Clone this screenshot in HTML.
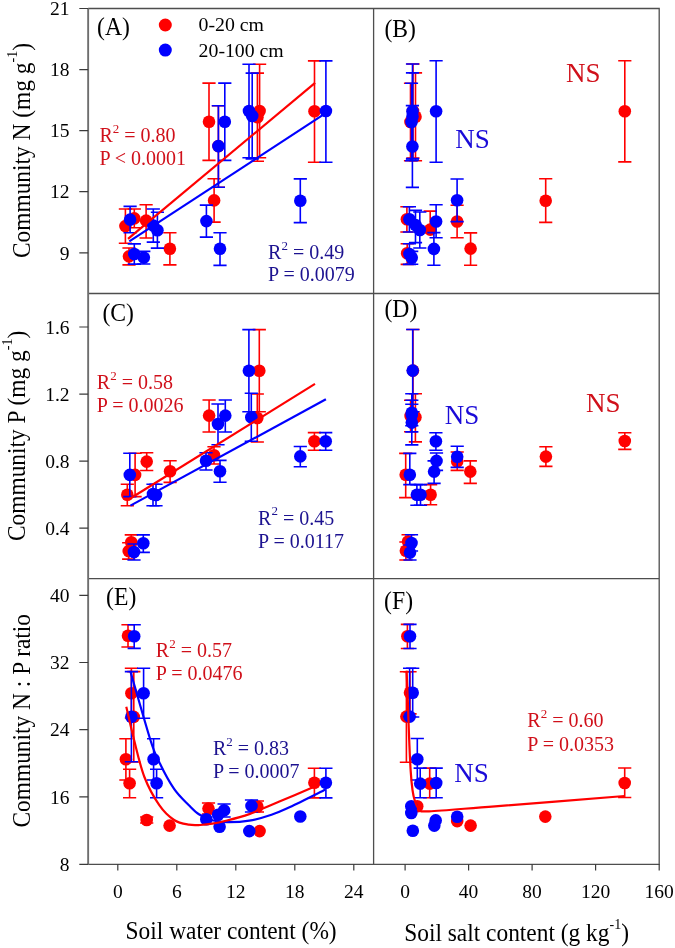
<!DOCTYPE html>
<html><head><meta charset="utf-8"><style>
html,body{margin:0;padding:0;background:#fff;width:675px;height:948px;overflow:hidden}
svg{display:block;will-change:transform}
text{font-family:"Liberation Serif",serif}
</style></head><body>
<svg width="675" height="948" viewBox="0 0 675 948" font-family="'Liberation Serif', serif">
<rect width="675" height="948" fill="#fff"/>
<path d="M218.4 105.7V187.3M211.8 105.7H225M211.8 187.3H225" stroke="#ff0000" stroke-width="1.6" fill="none"/><path d="M125.4 209V243.2M118.8 209H132M118.8 243.2H132" stroke="#ff0000" stroke-width="1.6" fill="none"/><path d="M134.3 209V227.8M127.7 209H140.9M127.7 227.8H140.9" stroke="#ff0000" stroke-width="1.6" fill="none"/><path d="M146.1 204.8V238M139.5 204.8H152.7M139.5 238H152.7" stroke="#ff0000" stroke-width="1.6" fill="none"/><path d="M169.9 232.7V264.9M163.3 232.7H176.5M163.3 264.9H176.5" stroke="#ff0000" stroke-width="1.6" fill="none"/><path d="M129 248V264.9M122.4 248H135.6M122.4 264.9H135.6" stroke="#ff0000" stroke-width="1.6" fill="none"/><path d="M209 83.1V160.4M202.4 83.1H215.6M202.4 160.4H215.6" stroke="#ff0000" stroke-width="1.6" fill="none"/><path d="M214.1 178.7V222.1M207.5 178.7H220.7M207.5 222.1H220.7" stroke="#ff0000" stroke-width="1.6" fill="none"/><path d="M259.6 64.2V157.8M253 64.2H266.2M253 157.8H266.2" stroke="#ff0000" stroke-width="1.6" fill="none"/><path d="M257.4 73.1V161.3M250.8 73.1H264M250.8 161.3H264" stroke="#ff0000" stroke-width="1.6" fill="none"/><path d="M314.5 60.9V162.3M307.9 60.9H321.1M307.9 162.3H321.1" stroke="#ff0000" stroke-width="1.6" fill="none"/><circle cx="218.4" cy="146.1" r="6.3" fill="#ff0000"/><circle cx="125.4" cy="226.1" r="6.3" fill="#ff0000"/><circle cx="134.3" cy="218.4" r="6.3" fill="#ff0000"/><circle cx="146.1" cy="220.6" r="6.3" fill="#ff0000"/><circle cx="169.9" cy="248.7" r="6.3" fill="#ff0000"/><circle cx="129" cy="256.4" r="6.3" fill="#ff0000"/><circle cx="209" cy="121.7" r="6.3" fill="#ff0000"/><circle cx="214.1" cy="200.4" r="6.3" fill="#ff0000"/><circle cx="259.6" cy="111" r="6.3" fill="#ff0000"/><circle cx="257.4" cy="117.2" r="6.3" fill="#ff0000"/><circle cx="314.5" cy="111.3" r="6.3" fill="#ff0000"/><path d="M130.1 206.4V232.8M123.5 206.4H136.7M123.5 232.8H136.7" stroke="#0000ff" stroke-width="1.6" fill="none"/><path d="M153.3 209V242.1M146.7 209H159.9M146.7 242.1H159.9" stroke="#0000ff" stroke-width="1.6" fill="none"/><path d="M157.4 212.3V248.1M150.8 212.3H164M150.8 248.1H164" stroke="#0000ff" stroke-width="1.6" fill="none"/><path d="M134.3 243.9V264.1M127.7 243.9H140.9M127.7 264.1H140.9" stroke="#0000ff" stroke-width="1.6" fill="none"/><path d="M143.8 251.4V264M137.2 251.4H150.4M137.2 264H150.4" stroke="#0000ff" stroke-width="1.6" fill="none"/><path d="M224.8 83.1V160.4M218.2 83.1H231.4M218.2 160.4H231.4" stroke="#0000ff" stroke-width="1.6" fill="none"/><path d="M218.4 105.7V187.3M211.8 105.7H225M211.8 187.3H225" stroke="#0000ff" stroke-width="1.6" fill="none"/><path d="M206.4 205.1V237.1M199.8 205.1H213M199.8 237.1H213" stroke="#0000ff" stroke-width="1.6" fill="none"/><path d="M249 64.2V157.8M242.4 64.2H255.6M242.4 157.8H255.6" stroke="#0000ff" stroke-width="1.6" fill="none"/><path d="M252.2 73.1V158.9M245.6 73.1H258.8M245.6 158.9H258.8" stroke="#0000ff" stroke-width="1.6" fill="none"/><path d="M325.9 60.9V162.3M319.3 60.9H332.5M319.3 162.3H332.5" stroke="#0000ff" stroke-width="1.6" fill="none"/><path d="M300.3 178.9V222.6M293.7 178.9H306.9M293.7 222.6H306.9" stroke="#0000ff" stroke-width="1.6" fill="none"/><path d="M220 232.8V265.4M213.4 232.8H226.6M213.4 265.4H226.6" stroke="#0000ff" stroke-width="1.6" fill="none"/><circle cx="130.1" cy="219.6" r="6.3" fill="#0000ff"/><circle cx="153.3" cy="225.6" r="6.3" fill="#0000ff"/><circle cx="157.4" cy="230.3" r="6.3" fill="#0000ff"/><circle cx="134.3" cy="254" r="6.3" fill="#0000ff"/><circle cx="143.8" cy="257.6" r="6.3" fill="#0000ff"/><circle cx="224.8" cy="121.7" r="6.3" fill="#0000ff"/><circle cx="218.4" cy="146.1" r="6.3" fill="#0000ff"/><circle cx="206.4" cy="221.1" r="6.3" fill="#0000ff"/><circle cx="249" cy="111" r="6.3" fill="#0000ff"/><circle cx="252.2" cy="116" r="6.3" fill="#0000ff"/><circle cx="325.9" cy="111" r="6.3" fill="#0000ff"/><circle cx="300.3" cy="200.8" r="6.3" fill="#0000ff"/><circle cx="220" cy="248.7" r="6.3" fill="#0000ff"/><path d="M129.3 241.4L325.7 113.2" stroke="#0000ff" stroke-width="2.2"/><path d="M128 238.9L315.1 82.9" stroke="#ff0000" stroke-width="2.2"/><text x="99.4" y="141.9" font-size="20" fill="#d0101a">R<tspan font-size="13" dy="-9.2">2</tspan><tspan dy="9.2"> = 0.80</tspan></text><text x="99.4" y="165.1" font-size="20" fill="#d0101a">P &lt; 0.0001</text><text x="268.1" y="258.7" font-size="20" fill="#1c1290">R<tspan font-size="13" dy="-9.2">2</tspan><tspan dy="9.2"> = 0.49</tspan></text><text x="268.1" y="281.1" font-size="20" fill="#1c1290">P = 0.0079</text><path d="M624.8 60.7V161.9M618.2 60.7H631.4M618.2 161.9H631.4" stroke="#ff0000" stroke-width="1.6" fill="none"/><path d="M545.7 178.7V222.4M539.1 178.7H552.3M539.1 222.4H552.3" stroke="#ff0000" stroke-width="1.6" fill="none"/><path d="M457.1 205.2V237.8M450.5 205.2H463.7M450.5 237.8H463.7" stroke="#ff0000" stroke-width="1.6" fill="none"/><path d="M470.6 232.9V265.2M464 232.9H477.2M464 265.2H477.2" stroke="#ff0000" stroke-width="1.6" fill="none"/><path d="M430.2 211.1V232.6M423.6 211.1H436.8M423.6 232.6H436.8" stroke="#ff0000" stroke-width="1.6" fill="none"/><path d="M415.5 72.9V160.7M408.9 72.9H422.1M408.9 160.7H422.1" stroke="#ff0000" stroke-width="1.6" fill="none"/><path d="M410.5 83.3V160.7M403.9 83.3H417.1M403.9 160.7H417.1" stroke="#ff0000" stroke-width="1.6" fill="none"/><path d="M406.9 206.7V232M400.3 206.7H413.5M400.3 232H413.5" stroke="#ff0000" stroke-width="1.6" fill="none"/><path d="M407.2 243.7V264.4M400.6 243.7H413.8M400.6 264.4H413.8" stroke="#ff0000" stroke-width="1.6" fill="none"/><path d="M413 64V158M406.4 64H419.6M406.4 158H419.6" stroke="#ff0000" stroke-width="1.6" fill="none"/><circle cx="624.8" cy="111.3" r="6.3" fill="#ff0000"/><circle cx="545.7" cy="200.7" r="6.3" fill="#ff0000"/><circle cx="457.1" cy="221.5" r="6.3" fill="#ff0000"/><circle cx="470.6" cy="248.6" r="6.3" fill="#ff0000"/><circle cx="430.2" cy="229.6" r="6.3" fill="#ff0000"/><circle cx="415.5" cy="116.8" r="6.3" fill="#ff0000"/><circle cx="410.5" cy="122" r="6.3" fill="#ff0000"/><circle cx="406.9" cy="219.3" r="6.3" fill="#ff0000"/><circle cx="407.2" cy="253.3" r="6.3" fill="#ff0000"/><circle cx="413" cy="111" r="6.3" fill="#ff0000"/><path d="M436.1 60.8V162.2M429.5 60.8H442.7M429.5 162.2H442.7" stroke="#0000ff" stroke-width="1.6" fill="none"/><path d="M412.5 64V158.6M405.9 64H419.1M405.9 158.6H419.1" stroke="#0000ff" stroke-width="1.6" fill="none"/><path d="M412.5 72.9V160M405.9 72.9H419.1M405.9 160H419.1" stroke="#0000ff" stroke-width="1.6" fill="none"/><path d="M411.5 83.3V160.7M404.9 83.3H418.1M404.9 160.7H418.1" stroke="#0000ff" stroke-width="1.6" fill="none"/><path d="M412.4 105.6V187.4M405.8 105.6H419M405.8 187.4H419" stroke="#0000ff" stroke-width="1.6" fill="none"/><path d="M457.1 179V221.6M450.5 179H463.7M450.5 221.6H463.7" stroke="#0000ff" stroke-width="1.6" fill="none"/><path d="M436.1 204.7V237.8M429.5 204.7H442.7M429.5 237.8H442.7" stroke="#0000ff" stroke-width="1.6" fill="none"/><path d="M433.9 232.6V265.2M427.3 232.6H440.5M427.3 265.2H440.5" stroke="#0000ff" stroke-width="1.6" fill="none"/><path d="M409.4 206.7V232M402.8 206.7H416M402.8 232H416" stroke="#0000ff" stroke-width="1.6" fill="none"/><path d="M415.5 210.4V242.6M408.9 210.4H422.1M408.9 242.6H422.1" stroke="#0000ff" stroke-width="1.6" fill="none"/><path d="M419.8 212V248M413.2 212H426.4M413.2 248H426.4" stroke="#0000ff" stroke-width="1.6" fill="none"/><path d="M409.4 243.7V264.4M402.8 243.7H416M402.8 264.4H416" stroke="#0000ff" stroke-width="1.6" fill="none"/><path d="M411.7 251.4V264.2M405.1 251.4H418.3M405.1 264.2H418.3" stroke="#0000ff" stroke-width="1.6" fill="none"/><circle cx="436.1" cy="111.3" r="6.3" fill="#0000ff"/><circle cx="412.5" cy="111.3" r="6.3" fill="#0000ff"/><circle cx="412.5" cy="116.5" r="6.3" fill="#0000ff"/><circle cx="411.5" cy="122" r="6.3" fill="#0000ff"/><circle cx="412.4" cy="146.5" r="6.3" fill="#0000ff"/><circle cx="457.1" cy="200.3" r="6.3" fill="#0000ff"/><circle cx="436.1" cy="221.5" r="6.3" fill="#0000ff"/><circle cx="433.9" cy="248.9" r="6.3" fill="#0000ff"/><circle cx="409.4" cy="219.3" r="6.3" fill="#0000ff"/><circle cx="415.5" cy="225" r="6.3" fill="#0000ff"/><circle cx="419.8" cy="230" r="6.3" fill="#0000ff"/><circle cx="409.4" cy="254" r="6.3" fill="#0000ff"/><circle cx="411.7" cy="257.8" r="6.3" fill="#0000ff"/><text x="566" y="82.2" font-size="27" fill="#d0101a" text-anchor="start" >NS</text><text x="455.2" y="148.4" font-size="27" fill="#1a0ad8" text-anchor="start" >NS</text><path d="M259.3 329.6V411.8M252.7 329.6H265.9M252.7 411.8H265.9" stroke="#ff0000" stroke-width="1.6" fill="none"/><path d="M257.3 394V442M250.7 394H263.9M250.7 442H263.9" stroke="#ff0000" stroke-width="1.6" fill="none"/><path d="M209.1 400V432M202.5 400H215.7M202.5 432H215.7" stroke="#ff0000" stroke-width="1.6" fill="none"/><path d="M314.4 432.6V450.2M307.8 432.6H321M307.8 450.2H321" stroke="#ff0000" stroke-width="1.6" fill="none"/><path d="M214 446.7V464M207.4 446.7H220.6M207.4 464H220.6" stroke="#ff0000" stroke-width="1.6" fill="none"/><path d="M146.7 452.7V470.5M140.1 452.7H153.3M140.1 470.5H153.3" stroke="#ff0000" stroke-width="1.6" fill="none"/><path d="M170.1 460.7V482.4M163.5 460.7H176.7M163.5 482.4H176.7" stroke="#ff0000" stroke-width="1.6" fill="none"/><path d="M135.1 453.2V496.6M128.5 453.2H141.7M128.5 496.6H141.7" stroke="#ff0000" stroke-width="1.6" fill="none"/><path d="M127.3 484.3V505.8M120.7 484.3H133.9M120.7 505.8H133.9" stroke="#ff0000" stroke-width="1.6" fill="none"/><path d="M131.3 534.9V549.5M124.7 534.9H137.9M124.7 549.5H137.9" stroke="#ff0000" stroke-width="1.6" fill="none"/><path d="M128.7 542.7V559.1M122.1 542.7H135.3M122.1 559.1H135.3" stroke="#ff0000" stroke-width="1.6" fill="none"/><circle cx="259.3" cy="370.7" r="6.3" fill="#ff0000"/><circle cx="257.3" cy="418" r="6.3" fill="#ff0000"/><circle cx="209.1" cy="415.6" r="6.3" fill="#ff0000"/><circle cx="314.4" cy="441.3" r="6.3" fill="#ff0000"/><circle cx="214" cy="455.3" r="6.3" fill="#ff0000"/><circle cx="146.7" cy="461.6" r="6.3" fill="#ff0000"/><circle cx="170.1" cy="471.3" r="6.3" fill="#ff0000"/><circle cx="135.1" cy="474.9" r="6.3" fill="#ff0000"/><circle cx="127.3" cy="494.7" r="6.3" fill="#ff0000"/><circle cx="131.3" cy="542.2" r="6.3" fill="#ff0000"/><circle cx="128.7" cy="551.1" r="6.3" fill="#ff0000"/><path d="M248.9 329.6V411.8M242.3 329.6H255.5M242.3 411.8H255.5" stroke="#0000ff" stroke-width="1.6" fill="none"/><path d="M251.3 393.3V441.3M244.7 393.3H257.9M244.7 441.3H257.9" stroke="#0000ff" stroke-width="1.6" fill="none"/><path d="M225.3 400V432M218.7 400H231.9M218.7 432H231.9" stroke="#0000ff" stroke-width="1.6" fill="none"/><path d="M218 404V444.7M211.4 404H224.6M211.4 444.7H224.6" stroke="#0000ff" stroke-width="1.6" fill="none"/><path d="M325.7 432.6V450.2M319.1 432.6H332.3M319.1 450.2H332.3" stroke="#0000ff" stroke-width="1.6" fill="none"/><path d="M300.3 446.5V466.8M293.7 446.5H306.9M293.7 466.8H306.9" stroke="#0000ff" stroke-width="1.6" fill="none"/><path d="M206 452.7V470M199.4 452.7H212.6M199.4 470H212.6" stroke="#0000ff" stroke-width="1.6" fill="none"/><path d="M220 460.4V482.2M213.4 460.4H226.6M213.4 482.2H226.6" stroke="#0000ff" stroke-width="1.6" fill="none"/><path d="M129.8 453.2V496.6M123.2 453.2H136.4M123.2 496.6H136.4" stroke="#0000ff" stroke-width="1.6" fill="none"/><path d="M153 484.3V505.8M146.4 484.3H159.6M146.4 505.8H159.6" stroke="#0000ff" stroke-width="1.6" fill="none"/><path d="M156 484.3V505.8M149.4 484.3H162.6M149.4 505.8H162.6" stroke="#0000ff" stroke-width="1.6" fill="none"/><path d="M143.3 534.9V552.4M136.7 534.9H149.9M136.7 552.4H149.9" stroke="#0000ff" stroke-width="1.6" fill="none"/><path d="M134 544V560M127.4 544H140.6M127.4 560H140.6" stroke="#0000ff" stroke-width="1.6" fill="none"/><circle cx="248.9" cy="370.7" r="6.3" fill="#0000ff"/><circle cx="251.3" cy="417.3" r="6.3" fill="#0000ff"/><circle cx="225.3" cy="415.6" r="6.3" fill="#0000ff"/><circle cx="218" cy="424" r="6.3" fill="#0000ff"/><circle cx="325.7" cy="441.3" r="6.3" fill="#0000ff"/><circle cx="300.3" cy="456.4" r="6.3" fill="#0000ff"/><circle cx="206" cy="460.7" r="6.3" fill="#0000ff"/><circle cx="220" cy="471.3" r="6.3" fill="#0000ff"/><circle cx="129.8" cy="474.9" r="6.3" fill="#0000ff"/><circle cx="153" cy="494" r="6.3" fill="#0000ff"/><circle cx="156" cy="495" r="6.3" fill="#0000ff"/><circle cx="143.3" cy="543.3" r="6.3" fill="#0000ff"/><circle cx="134" cy="552" r="6.3" fill="#0000ff"/><path d="M130.4 505.6L325.9 399.3" stroke="#0000ff" stroke-width="2.2"/><path d="M129 499.3L315 383.9" stroke="#ff0000" stroke-width="2.2"/><text x="96.8" y="388.7" font-size="20" fill="#d0101a">R<tspan font-size="13" dy="-9.2">2</tspan><tspan dy="9.2"> = 0.58</tspan></text><text x="96.8" y="412.3" font-size="20" fill="#d0101a">P = 0.0026</text><text x="258.1" y="524.6" font-size="20" fill="#1c1290">R<tspan font-size="13" dy="-9.2">2</tspan><tspan dy="9.2"> = 0.45</tspan></text><text x="258.1" y="547.9" font-size="20" fill="#1c1290">P = 0.0117</text><path d="M413 329.5V411.7M406.4 329.5H419.6M406.4 411.7H419.6" stroke="#ff0000" stroke-width="1.6" fill="none"/><path d="M415.4 393.7V441.9M408.8 393.7H422M408.8 441.9H422" stroke="#ff0000" stroke-width="1.6" fill="none"/><path d="M410.6 400.3V431.7M404 400.3H417.2M404 431.7H417.2" stroke="#ff0000" stroke-width="1.6" fill="none"/><path d="M457.2 452V470.4M450.6 452H463.8M450.6 470.4H463.8" stroke="#ff0000" stroke-width="1.6" fill="none"/><path d="M470.3 460.9V483.4M463.7 460.9H476.9M463.7 483.4H476.9" stroke="#ff0000" stroke-width="1.6" fill="none"/><path d="M405.7 453.4V497.6M399.1 453.4H412.3M399.1 497.6H412.3" stroke="#ff0000" stroke-width="1.6" fill="none"/><path d="M430.6 484.6V504.7M424 484.6H437.2M424 504.7H437.2" stroke="#ff0000" stroke-width="1.6" fill="none"/><path d="M545.9 446.8V466.4M539.3 446.8H552.5M539.3 466.4H552.5" stroke="#ff0000" stroke-width="1.6" fill="none"/><path d="M624.8 432.8V449.4M618.2 432.8H631.4M618.2 449.4H631.4" stroke="#ff0000" stroke-width="1.6" fill="none"/><path d="M408.1 534.8V549M401.5 534.8H414.7M401.5 549H414.7" stroke="#ff0000" stroke-width="1.6" fill="none"/><path d="M405.9 542V560M399.3 542H412.5M399.3 560H412.5" stroke="#ff0000" stroke-width="1.6" fill="none"/><circle cx="413" cy="370.6" r="6.3" fill="#ff0000"/><circle cx="415.4" cy="417.2" r="6.3" fill="#ff0000"/><circle cx="410.6" cy="416" r="6.3" fill="#ff0000"/><circle cx="457.2" cy="461.5" r="6.3" fill="#ff0000"/><circle cx="470.3" cy="471.6" r="6.3" fill="#ff0000"/><circle cx="405.7" cy="474.8" r="6.3" fill="#ff0000"/><circle cx="430.6" cy="494.7" r="6.3" fill="#ff0000"/><circle cx="545.9" cy="456.6" r="6.3" fill="#ff0000"/><circle cx="624.8" cy="441" r="6.3" fill="#ff0000"/><circle cx="408.1" cy="541.5" r="6.3" fill="#ff0000"/><circle cx="405.9" cy="550.7" r="6.3" fill="#ff0000"/><path d="M412.7 329.5V411.7M406.1 329.5H419.3M406.1 411.7H419.3" stroke="#0000ff" stroke-width="1.6" fill="none"/><path d="M411.8 393.7V431.9M405.2 393.7H418.4M405.2 431.9H418.4" stroke="#0000ff" stroke-width="1.6" fill="none"/><path d="M411.8 404.2V425.8M405.2 404.2H418.4M405.2 425.8H418.4" stroke="#0000ff" stroke-width="1.6" fill="none"/><path d="M411.8 400.3V444.9M405.2 400.3H418.4M405.2 444.9H418.4" stroke="#0000ff" stroke-width="1.6" fill="none"/><path d="M435.9 432.8V450.2M429.3 432.8H442.5M429.3 450.2H442.5" stroke="#0000ff" stroke-width="1.6" fill="none"/><path d="M436.5 453V470.4M429.9 453H443.1M429.9 470.4H443.1" stroke="#0000ff" stroke-width="1.6" fill="none"/><path d="M434.1 460.9V483.4M427.5 460.9H440.7M427.5 483.4H440.7" stroke="#0000ff" stroke-width="1.6" fill="none"/><path d="M457.2 446.3V467.4M450.6 446.3H463.8M450.6 467.4H463.8" stroke="#0000ff" stroke-width="1.6" fill="none"/><path d="M409.8 453.4V484.6M403.2 453.4H416.4M403.2 484.6H416.4" stroke="#0000ff" stroke-width="1.6" fill="none"/><path d="M416.9 484.6V505.3M410.3 484.6H423.5M410.3 505.3H423.5" stroke="#0000ff" stroke-width="1.6" fill="none"/><path d="M420.5 484.6V505.3M413.9 484.6H427.1M413.9 505.3H427.1" stroke="#0000ff" stroke-width="1.6" fill="none"/><path d="M411.5 534.8V551M404.9 534.8H418.1M404.9 551H418.1" stroke="#0000ff" stroke-width="1.6" fill="none"/><path d="M410 545V560M403.4 545H416.6M403.4 560H416.6" stroke="#0000ff" stroke-width="1.6" fill="none"/><circle cx="412.7" cy="370.6" r="6.3" fill="#0000ff"/><circle cx="411.8" cy="412.8" r="6.3" fill="#0000ff"/><circle cx="411.8" cy="415" r="6.3" fill="#0000ff"/><circle cx="411.8" cy="422.6" r="6.3" fill="#0000ff"/><circle cx="435.9" cy="441.3" r="6.3" fill="#0000ff"/><circle cx="436.5" cy="460.9" r="6.3" fill="#0000ff"/><circle cx="434.1" cy="471.6" r="6.3" fill="#0000ff"/><circle cx="457.2" cy="456.7" r="6.3" fill="#0000ff"/><circle cx="409.8" cy="474.8" r="6.3" fill="#0000ff"/><circle cx="416.9" cy="494.7" r="6.3" fill="#0000ff"/><circle cx="420.5" cy="494.7" r="6.3" fill="#0000ff"/><circle cx="411.5" cy="543" r="6.3" fill="#0000ff"/><circle cx="410" cy="552.6" r="6.3" fill="#0000ff"/><text x="444.7" y="423.9" font-size="27" fill="#1a0ad8" text-anchor="start" >NS</text><text x="586" y="411.6" font-size="27" fill="#d0101a" text-anchor="start" >NS</text><path d="M128 624.7V647M121.4 624.7H134.6M121.4 647H134.6" stroke="#ff0000" stroke-width="1.6" fill="none"/><path d="M131.4 668.3V718M124.8 668.3H138M124.8 718H138" stroke="#ff0000" stroke-width="1.6" fill="none"/><path d="M133.8 671.6V762M127.2 671.6H140.4M127.2 762H140.4" stroke="#ff0000" stroke-width="1.6" fill="none"/><path d="M125.9 738.8V780M119.3 738.8H132.5M119.3 780H132.5" stroke="#ff0000" stroke-width="1.6" fill="none"/><path d="M129.6 769.3V797.8M123 769.3H136.2M123 797.8H136.2" stroke="#ff0000" stroke-width="1.6" fill="none"/><path d="M146.7 817V823M140.1 817H153.3M140.1 823H153.3" stroke="#ff0000" stroke-width="1.6" fill="none"/><path d="M208.5 803V814M201.9 803H215.1M201.9 814H215.1" stroke="#ff0000" stroke-width="1.6" fill="none"/><path d="M257.4 801V812M250.8 801H264M250.8 812H264" stroke="#ff0000" stroke-width="1.6" fill="none"/><path d="M314.4 768.3V797.9M307.8 768.3H321M307.8 797.9H321" stroke="#ff0000" stroke-width="1.6" fill="none"/><circle cx="128" cy="635.8" r="6.3" fill="#ff0000"/><circle cx="131.4" cy="693.2" r="6.3" fill="#ff0000"/><circle cx="133.8" cy="716.9" r="6.3" fill="#ff0000"/><circle cx="125.9" cy="759.3" r="6.3" fill="#ff0000"/><circle cx="129.6" cy="783.3" r="6.3" fill="#ff0000"/><circle cx="146.7" cy="820" r="6.3" fill="#ff0000"/><circle cx="169.6" cy="825.6" r="6.3" fill="#ff0000"/><circle cx="208.5" cy="808.6" r="6.3" fill="#ff0000"/><circle cx="257.4" cy="806.7" r="6.3" fill="#ff0000"/><circle cx="259.6" cy="831.1" r="6.3" fill="#ff0000"/><circle cx="314.4" cy="782.7" r="6.3" fill="#ff0000"/><path d="M134.2 624.7V648.4M127.6 624.7H140.8M127.6 648.4H140.8" stroke="#0000ff" stroke-width="1.6" fill="none"/><path d="M143.6 668.3V718.3M137 668.3H150.2M137 718.3H150.2" stroke="#0000ff" stroke-width="1.6" fill="none"/><path d="M131.4 671.6V761.8M124.8 671.6H138M124.8 761.8H138" stroke="#0000ff" stroke-width="1.6" fill="none"/><path d="M153.6 738.8V780M147 738.8H160.2M147 780H160.2" stroke="#0000ff" stroke-width="1.6" fill="none"/><path d="M156.6 769.3V797.8M150 769.3H163.2M150 797.8H163.2" stroke="#0000ff" stroke-width="1.6" fill="none"/><path d="M224.1 804V817M217.5 804H230.7M217.5 817H230.7" stroke="#0000ff" stroke-width="1.6" fill="none"/><path d="M251.5 800V812M244.9 800H258.1M244.9 812H258.1" stroke="#0000ff" stroke-width="1.6" fill="none"/><path d="M325.9 768.3V797.9M319.3 768.3H332.5M319.3 797.9H332.5" stroke="#0000ff" stroke-width="1.6" fill="none"/><circle cx="134.2" cy="636.2" r="6.3" fill="#0000ff"/><circle cx="143.6" cy="693.2" r="6.3" fill="#0000ff"/><circle cx="131.4" cy="716.7" r="6.3" fill="#0000ff"/><circle cx="153.6" cy="759.3" r="6.3" fill="#0000ff"/><circle cx="156.6" cy="783.3" r="6.3" fill="#0000ff"/><circle cx="224.1" cy="810.4" r="6.3" fill="#0000ff"/><circle cx="218.1" cy="814.8" r="6.3" fill="#0000ff"/><circle cx="206.3" cy="819.3" r="6.3" fill="#0000ff"/><circle cx="219.6" cy="826.7" r="6.3" fill="#0000ff"/><circle cx="251.5" cy="805.9" r="6.3" fill="#0000ff"/><circle cx="249.3" cy="831.1" r="6.3" fill="#0000ff"/><circle cx="300.3" cy="816.5" r="6.3" fill="#0000ff"/><circle cx="325.9" cy="782.7" r="6.3" fill="#0000ff"/><path d="M130.2 670.7C133.6 682.2 145.6 724.8 150.4 740C155.2 755.2 155.4 754.1 159.3 762.2C163.2 770.4 169.2 781.7 174.1 788.9C179 796.1 184.8 801 188.9 805.2C193 809.4 195 811.8 198.9 814.3C202.8 816.8 207.5 818.9 212.2 820.2C216.9 821.5 220.8 822.1 227 822.2C233.2 822.3 241.9 821.9 249.3 820.7C256.7 819.5 264.7 817.1 271.5 814.8C278.3 812.5 281 811.3 290 807.1C299 802.9 319.6 792.5 325.5 789.6" stroke="#0000ff" stroke-width="2.2" fill="none"/><path d="M126.3 706.8C127.6 712.3 131.1 728.3 134.1 740C137.1 751.7 140.2 766.1 144.4 777C148.6 787.9 154.4 798 159.3 805.2C164.2 812.4 169.2 816.8 174.1 820C179 823.2 184.6 823.9 188.9 824.7C193.2 825.5 196.1 825.2 200 825C203.9 824.8 207.7 824.5 212.2 823.7C216.7 823 220.8 822.1 227 820.5C233.2 818.9 243.1 816.2 249.3 814.1C255.5 812 259 810.1 264.1 808C269.2 805.9 271.9 804.7 280 801.3C288.1 797.9 307 789.9 312.4 787.6" stroke="#ff0000" stroke-width="2.2" fill="none"/><text x="155.8" y="657.2" font-size="20" fill="#d0101a">R<tspan font-size="13" dy="-9.2">2</tspan><tspan dy="9.2"> = 0.57</tspan></text><text x="155.8" y="679.8" font-size="20" fill="#d0101a">P = 0.0476</text><text x="212.9" y="754.9" font-size="20" fill="#1c1290">R<tspan font-size="13" dy="-9.2">2</tspan><tspan dy="9.2"> = 0.83</tspan></text><text x="212.9" y="778" font-size="20" fill="#1c1290">P = 0.0007</text><path d="M407.4 624.4V648.5M400.8 624.4H414M400.8 648.5H414" stroke="#ff0000" stroke-width="1.6" fill="none"/><path d="M410 671.7V713.9M403.4 671.7H416.6M403.4 713.9H416.6" stroke="#ff0000" stroke-width="1.6" fill="none"/><path d="M406.4 671.7V762.2M399.8 671.7H413M399.8 762.2H413" stroke="#ff0000" stroke-width="1.6" fill="none"/><path d="M429.7 768.1V797.8M423.1 768.1H436.3M423.1 797.8H436.3" stroke="#ff0000" stroke-width="1.6" fill="none"/><path d="M624.7 768V797.5M618.1 768H631.3M618.1 797.5H631.3" stroke="#ff0000" stroke-width="1.6" fill="none"/><circle cx="407.4" cy="636.3" r="6.3" fill="#ff0000"/><circle cx="410" cy="692.8" r="6.3" fill="#ff0000"/><circle cx="406.4" cy="716.6" r="6.3" fill="#ff0000"/><circle cx="417.2" cy="806.3" r="6.3" fill="#ff0000"/><circle cx="429.7" cy="783.6" r="6.3" fill="#ff0000"/><circle cx="457.2" cy="821.1" r="6.3" fill="#ff0000"/><circle cx="470.6" cy="825.6" r="6.3" fill="#ff0000"/><circle cx="545.3" cy="816.6" r="6.3" fill="#ff0000"/><circle cx="624.7" cy="783" r="6.3" fill="#ff0000"/><path d="M410 624.4V648.5M403.4 624.4H416.6M403.4 648.5H416.6" stroke="#0000ff" stroke-width="1.6" fill="none"/><path d="M412.7 668.3V717M406.1 668.3H419.3M406.1 717H419.3" stroke="#0000ff" stroke-width="1.6" fill="none"/><path d="M409.6 668.3V716.6M403 668.3H416.2M403 716.6H416.2" stroke="#0000ff" stroke-width="1.6" fill="none"/><path d="M417.3 738.5V780M410.7 738.5H423.9M410.7 780H423.9" stroke="#0000ff" stroke-width="1.6" fill="none"/><path d="M420.2 768.1V797.8M413.6 768.1H426.8M413.6 797.8H426.8" stroke="#0000ff" stroke-width="1.6" fill="none"/><path d="M436.2 768.1V797.8M429.6 768.1H442.8M429.6 797.8H442.8" stroke="#0000ff" stroke-width="1.6" fill="none"/><circle cx="410" cy="636.3" r="6.3" fill="#0000ff"/><circle cx="412.7" cy="692.8" r="6.3" fill="#0000ff"/><circle cx="409.6" cy="716.6" r="6.3" fill="#0000ff"/><circle cx="417.3" cy="759.3" r="6.3" fill="#0000ff"/><circle cx="420.2" cy="783.6" r="6.3" fill="#0000ff"/><circle cx="436.2" cy="783" r="6.3" fill="#0000ff"/><circle cx="411.3" cy="806.3" r="6.3" fill="#0000ff"/><circle cx="411.3" cy="813" r="6.3" fill="#0000ff"/><circle cx="412.8" cy="830.7" r="6.3" fill="#0000ff"/><circle cx="435.7" cy="820.4" r="6.3" fill="#0000ff"/><circle cx="434.3" cy="825.6" r="6.3" fill="#0000ff"/><circle cx="457.2" cy="816.7" r="6.3" fill="#0000ff"/><path d="M406.6 670.6C406.8 675.5 407.4 688.4 407.8 700C408.2 711.6 408.7 728.1 409.2 740C409.7 751.9 410.1 762.8 410.7 771.1C411.2 779.4 411.8 785 412.5 790C413.2 795 413.8 797.8 414.9 801C416 804.2 417 807.8 419.4 809.5C421.8 811.2 416.5 811.8 429.1 811.3C441.7 810.8 462.4 808.8 495 806.3C527.6 803.8 603.1 797.7 624.7 796" stroke="#ff0000" stroke-width="2.2" fill="none"/><text x="527.3" y="727.4" font-size="20" fill="#d0101a">R<tspan font-size="13" dy="-9.2">2</tspan><tspan dy="9.2"> = 0.60</tspan></text><text x="527.3" y="750.8" font-size="20" fill="#d0101a">P = 0.0353</text><text x="454.3" y="781.8" font-size="27" fill="#1a0ad8" text-anchor="start" >NS</text>
<path d="M88.15 8.5H659.2V864.3H88.15 M373.6 8.5V864.3 M88.15 293.5H659.2 M88.15 578.7H659.2" stroke="#4e4e4e" stroke-width="1.3" fill="none"/><path d="M88.15 7.9V864.9" stroke="#6e6e6e" stroke-width="1.9" fill="none"/><path d="M79.3 69.6H88.15M79.3 130.7H88.15M79.3 191.7H88.15M79.3 252.8H88.15M79.3 8.5H88.15M79.3 327H88.15M79.3 394.1H88.15M79.3 461.1H88.15M79.3 528.2H88.15M79.3 595.3H88.15M79.3 662.5H88.15M79.3 729.6H88.15M79.3 796.8H88.15M79.3 864.3H88.15M117.8 864.3V870.5M176.8 864.3V870.5M235.8 864.3V870.5M294.8 864.3V870.5M353.8 864.3V870.5M405.1 864.3V870.5M468.6 864.3V870.5M532.1 864.3V870.5M595.6 864.3V870.5M659.2 864.3V870.5" stroke="#3a3a3a" stroke-width="1.2" fill="none"/><text x="69.5" y="76.3" font-size="19.5" fill="#000" text-anchor="end" >18</text><text x="69.5" y="137.4" font-size="19.5" fill="#000" text-anchor="end" >15</text><text x="69.5" y="198.4" font-size="19.5" fill="#000" text-anchor="end" >12</text><text x="69.5" y="259.5" font-size="19.5" fill="#000" text-anchor="end" >9</text><text x="69.5" y="15.2" font-size="19.5" fill="#000" text-anchor="end" >21</text><text x="69.5" y="333.7" font-size="19.5" fill="#000" text-anchor="end" >1.6</text><text x="69.5" y="400.8" font-size="19.5" fill="#000" text-anchor="end" >1.2</text><text x="69.5" y="467.8" font-size="19.5" fill="#000" text-anchor="end" >0.8</text><text x="69.5" y="534.9" font-size="19.5" fill="#000" text-anchor="end" >0.4</text><text x="69.5" y="602" font-size="19.5" fill="#000" text-anchor="end" >40</text><text x="69.5" y="669.2" font-size="19.5" fill="#000" text-anchor="end" >32</text><text x="69.5" y="736.3" font-size="19.5" fill="#000" text-anchor="end" >24</text><text x="69.5" y="803.5" font-size="19.5" fill="#000" text-anchor="end" >16</text><text x="69.5" y="871" font-size="19.5" fill="#000" text-anchor="end" >8</text><text x="117.8" y="898.2" font-size="19.5" fill="#000" text-anchor="middle" >0</text><text x="176.8" y="898.2" font-size="19.5" fill="#000" text-anchor="middle" >6</text><text x="235.8" y="898.2" font-size="19.5" fill="#000" text-anchor="middle" >12</text><text x="294.8" y="898.2" font-size="19.5" fill="#000" text-anchor="middle" >18</text><text x="353.8" y="898.2" font-size="19.5" fill="#000" text-anchor="middle" >24</text><text x="405.1" y="898.2" font-size="19.5" fill="#000" text-anchor="middle" >0</text><text x="468.6" y="898.2" font-size="19.5" fill="#000" text-anchor="middle" >40</text><text x="532.1" y="898.2" font-size="19.5" fill="#000" text-anchor="middle" >80</text><text x="595.6" y="898.2" font-size="19.5" fill="#000" text-anchor="middle" >120</text><text x="659.2" y="898.2" font-size="19.5" fill="#000" text-anchor="middle" >160</text><text transform="translate(125.6,939.3) scale(1,1.07)" font-size="23.4">Soil water content (%)</text><text transform="translate(404.2,940.6) scale(1,1.07)" font-size="23.4">Soil salt content (g kg<tspan font-size="14" dy="-10.6">-1</tspan><tspan dy="10.6">)</tspan></text><text transform="translate(30.2,258) rotate(-90) scale(1,1.07)" font-size="23.4">Community N (mg g<tspan font-size="14" dy="-12">-1</tspan><tspan dy="12">)</tspan></text><text transform="translate(24.8,541) rotate(-90) scale(1,1.07)" font-size="23.4">Community P (mg g<tspan font-size="14" dy="-12">-1</tspan><tspan dy="12">)</tspan></text><text transform="translate(30.2,827.5) rotate(-90) scale(1,1.07)" font-size="23.4">Community N : P ratio</text><text transform="translate(97,35.3) scale(0.955,1)" font-size="24.8">(A)</text><text transform="translate(384.4,37) scale(0.955,1)" font-size="24.8">(B)</text><text transform="translate(102.4,320.6) scale(0.955,1)" font-size="24.8">(C)</text><text transform="translate(384.4,317.4) scale(0.955,1)" font-size="24.8">(D)</text><text transform="translate(106.1,605.1) scale(0.955,1)" font-size="24.8">(E)</text><text transform="translate(384.1,608.7) scale(0.955,1)" font-size="24.8">(F)</text><circle cx="165.3" cy="25" r="6.5" fill="#ff0000"/><circle cx="165.3" cy="50.1" r="6.5" fill="#0000ff"/><text x="198.6" y="31.3" font-size="19.8" fill="#000" text-anchor="start" >0-20 cm</text><text x="198.6" y="56.5" font-size="19.8" fill="#000" text-anchor="start" >20-100 cm</text>
</svg>
</body></html>
